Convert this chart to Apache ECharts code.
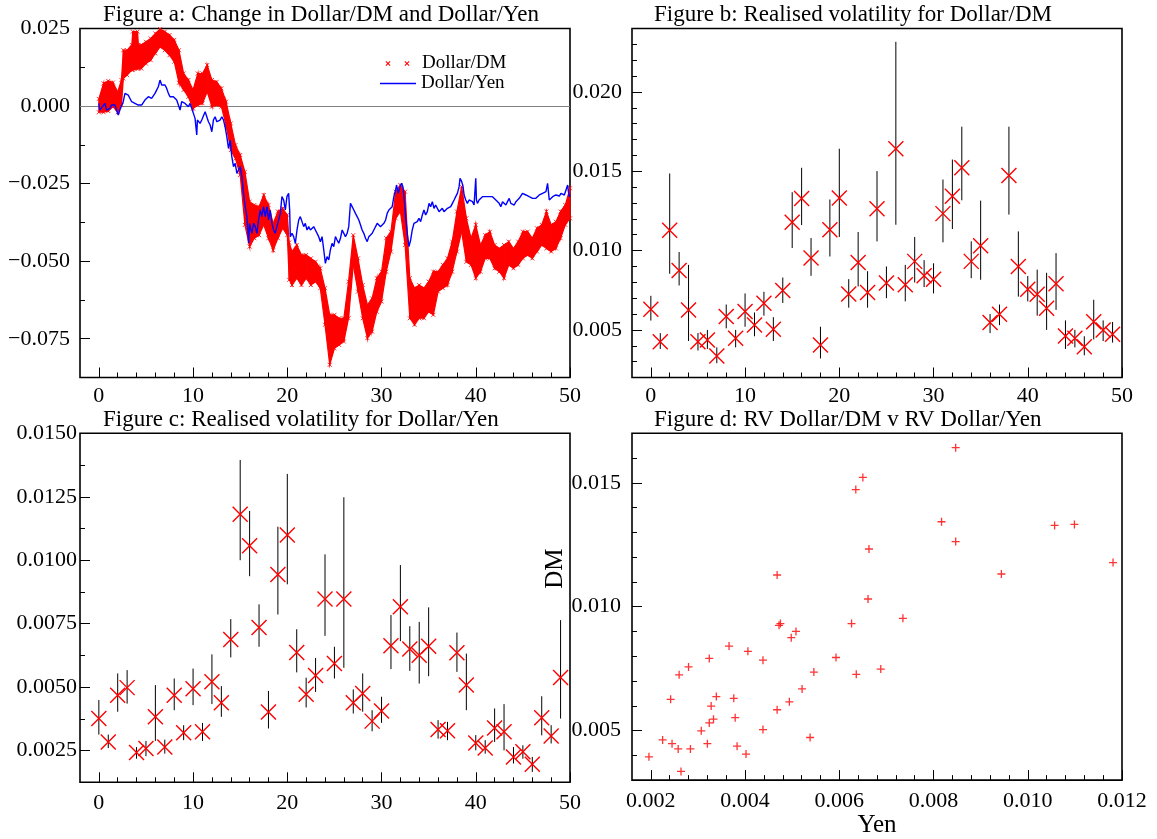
<!DOCTYPE html>
<html>
<head>
<meta charset="utf-8">
<script src="https://cdn.jsdelivr.net/npm/echarts@6/dist/echarts.min.js"></script>
<style>html,body{margin:0;padding:0;background:#fff;}#c{width:1157px;height:839px;}</style>
</head>
<body>
<div id="c"></div>
<script>
// ---------- DATA ----------
const days = [0,1,2,3,4,5,6,7,8,9,10,11,12,13,14,15,16,17,18,19,20,21,22,23,24,25,26,27,28,29,30,31,32,33,34,35,36,37,38,39,40,41,42,43,44,45,46,47,48,49];

// Figure a: Dollar/DM (band of dense points: lower / upper envelope)
const dmX  = [0,0.5,1,1.5,2,2.4,2.6,3,3.5,3.6,4.1,4.2,4.5,5,5.5,6,6.5,7,7.5,8,8.5,9,9.5,10,10.5,11,11.5,12,12.5,13,13.5,14,14.5,15,15.5,16,16.5,17,17.5,18,18.5,19,19.5,20,20.2,20.5,21,21.5,22,22.5,23,23.5,24,24.5,25,25.5,26,26.5,27,27.5,28,28.5,29,29.5,30,30.5,31,31.5,32,32.5,33,33.5,34,34.5,35,35.5,36,36.5,37,37.5,38,38.5,39,39.5,40,40.5,41,41.5,42,42.5,43,43.5,44,44.5,45,45.5,46,46.5,47,47.5,48,48.5,49,49.5,50];
const dmLo = [-0.0020,-0.0020,-0.0016,-0.0002,-0.0020,0.0003,0.0089,0.0100,0.0116,0.0116,0.0120,0.0121,0.0121,0.0137,0.0148,0.0170,0.0191,0.0180,0.0164,0.0143,0.0075,0.0052,0.0030,-0.0008,0.0003,0.0009,0.0046,-0.0002,0.0003,-0.0002,-0.0061,-0.0142,-0.0169,-0.0222,-0.0383,-0.0453,-0.0426,-0.0416,-0.0383,-0.0426,-0.0465,-0.0426,-0.0394,-0.0416,-0.0560,-0.0577,-0.0555,-0.0577,-0.0555,-0.0577,-0.0566,-0.0587,-0.0705,-0.0834,-0.0781,-0.0770,-0.0759,-0.0684,-0.0512,-0.0598,-0.0684,-0.0748,-0.0727,-0.0663,-0.0630,-0.0534,-0.0469,-0.0362,-0.0340,-0.0448,-0.0684,-0.0705,-0.0684,-0.0684,-0.0663,-0.0673,-0.0598,-0.0587,-0.0577,-0.0534,-0.0469,-0.0405,-0.0502,-0.0512,-0.0555,-0.0534,-0.0491,-0.0491,-0.0523,-0.0534,-0.0555,-0.0512,-0.0523,-0.0512,-0.0491,-0.0480,-0.0491,-0.0469,-0.0448,-0.0459,-0.0469,-0.0459,-0.0426,-0.0383,-0.0362];
const dmHi = [0.0023,0.0073,0.0081,0.0076,0.0046,0.0084,0.0180,0.0180,0.0197,0.0240,0.0240,0.0197,0.0197,0.0207,0.0218,0.0234,0.0248,0.0240,0.0229,0.0213,0.0180,0.0105,0.0084,0.0052,0.0105,0.0105,0.0132,0.0084,0.0078,0.0057,0.0014,-0.0056,-0.0126,-0.0158,-0.0212,-0.0308,-0.0319,-0.0324,-0.0287,-0.0319,-0.0378,-0.0340,-0.0330,-0.0351,-0.0440,-0.0469,-0.0448,-0.0480,-0.0480,-0.0491,-0.0502,-0.0523,-0.0587,-0.0673,-0.0673,-0.0684,-0.0684,-0.0566,-0.0416,-0.0491,-0.0577,-0.0641,-0.0620,-0.0555,-0.0534,-0.0426,-0.0405,-0.0276,-0.0255,-0.0276,-0.0555,-0.0587,-0.0577,-0.0587,-0.0566,-0.0534,-0.0534,-0.0512,-0.0491,-0.0437,-0.0340,-0.0260,-0.0362,-0.0426,-0.0383,-0.0448,-0.0416,-0.0405,-0.0448,-0.0459,-0.0448,-0.0437,-0.0459,-0.0437,-0.0405,-0.0405,-0.0426,-0.0394,-0.0383,-0.0340,-0.0383,-0.0373,-0.0340,-0.0319,-0.0265];

// Figure a: Dollar/Yen
const yenX = [0,0.11,0.28,0.64,0.82,1.17,1.35,1.52,1.70,1.88,2.06,2.23,2.41,2.59,2.77,2.94,3.12,3.30,3.48,3.65,3.83,4.01,4.18,4.36,4.54,4.72,4.89,5.07,5.25,5.43,5.60,5.78,5.96,6.13,6.31,6.49,6.67,6.84,7.02,7.20,7.38,7.55,7.73,7.91,8.09,8.26,8.44,8.62,8.79,8.97,9.15,9.33,9.50,9.68,9.86,10.04,10.21,10.39,10.46,10.57,10.74,10.92,11.10,11.28,11.45,11.63,11.81,11.99,12.16,12.34,12.52,12.70,12.87,13.05,13.23,13.40,13.58,13.76,13.94,14.11,14.29,14.47,14.65,14.82,15.00,15.18,15.35,15.53,15.71,15.78,15.89,15.99,16.24,16.42,16.60,16.77,16.95,17.13,17.30,17.48,17.66,17.84,18.01,18.19,18.37,18.55,18.72,18.90,19.08,19.26,19.43,19.61,19.79,19.96,20.14,20.25,20.32,20.50,20.67,20.85,21.03,21.21,21.38,21.56,21.74,21.91,22.09,22.27,22.45,22.62,22.80,22.98,23.16,23.33,23.51,23.69,23.87,
  24.04,24.22,24.40,24.57,24.75,24.93,25.11,25.28,25.46,25.64,25.82,25.99,26.17,26.35,26.52,26.70,26.88,27.06,27.23,27.41,27.59,27.77,27.94,28.12,28.30,28.48,28.65,28.83,29.01,29.18,29.36,29.54,29.72,29.89,30.07,30.25,30.43,30.60,30.78,30.96,31.13,31.31,31.49,31.60,31.77,31.91,32.13,32.27,32.45,32.55,32.73,32.91,33.09,33.26,33.44,33.62,33.79,33.97,34.15,34.33,34.50,34.68,34.86,35.04,35.21,35.39,35.57,35.74,35.92,36.10,36.28,36.45,36.63,36.81,36.99,37.16,37.34,37.52,37.70,37.87,38.05,38.23,38.33,38.51,38.65,38.76,38.94,39.11,39.29,39.47,39.65,39.82,40.00,40.07,40.18,40.35,40.53,40.71,40.89,41.06,41.24,41.42,41.60,41.77,41.95,42.13,42.30,42.48,42.66,42.84,43.01,43.19,43.37,43.55,43.72,43.90,44.08,44.26,44.43,44.61,44.79,44.96,45.14,45.32,45.50,45.67,45.85,46.03,46.21,46.38,46.56,46.74,46.91,47.09,47.27,47.45,47.62,47.73,47.80,47.98,48.16,48.33,48.51,48.69,48.87,49.04,49.22,49.40,49.57,49.75,49.86,49.93,50.00];
const yenY = [0.00086,-0.00129,-0.00183,0.00086,-0.00129,-0.00075,0.00032,0.00086,0.00032,-0.00129,-0.0029,-0.00129,-0.00075,0.0014,0.00408,0.00462,0.00354,0.00301,0.0014,0.00193,0.00086,0.0014,0.00032,-0.00021,0.00032,0.00032,0.00193,0.00247,0.00301,0.00247,0.00247,0.00301,0.00408,0.00515,0.00623,0.00838,0.00677,0.00677,0.00677,0.00569,0.00408,0.00301,0.00354,0.00301,0.00247,0.00193,0.00247,-0.00129,0.0014,0.00086,0.00086,0.00032,-0.00021,0.00086,-0.00075,-0.00129,-0.00397,-0.00934,-0.00451,-0.00397,-0.00558,-0.00451,-0.00397,-0.00183,-0.00236,-0.00505,-0.00612,-0.00827,-0.00451,-0.00344,-0.00505,-0.00451,-0.00451,-0.00344,-0.00451,-0.00666,-0.00988,-0.01364,-0.01095,-0.01632,-0.01954,-0.01847,-0.02169,-0.02062,-0.01954,-0.02277,-0.02814,-0.03243,-0.03565,-0.03887,-0.04424,-0.0378,-0.04102,-0.0378,-0.03887,-0.04102,-0.03673,-0.0335,-0.03565,-0.03243,-0.03565,-0.03243,-0.03673,-0.0335,-0.0378,-0.03995,-0.04102,-0.03887,-0.03887,-0.03458,-0.02921,-0.03028,-0.0335,-0.02921,-0.02814,-0.0335,-0.0421,-0.04102,-0.0421,-0.04424,-0.03995,-0.03673,-0.03565,-0.03726,-0.03887,-0.0378,-0.03995,-0.03887,-0.03995,-0.03941,-0.03887,-0.03995,-0.03995,-0.0421,-0.04371,-0.0421,-0.04639,
  -0.05069,-0.04854,-0.04961,-0.04639,-0.04424,-0.04532,-0.0421,-0.04317,-0.04424,-0.04263,-0.03995,-0.03941,-0.0421,-0.04102,-0.03887,-0.03136,-0.03243,-0.0335,-0.03458,-0.03565,-0.03673,-0.03834,-0.03995,-0.04102,-0.04263,-0.04371,-0.0421,-0.04156,-0.04102,-0.03995,-0.03941,-0.0378,-0.03834,-0.03887,-0.03834,-0.0378,-0.03673,-0.03458,-0.0335,-0.03297,-0.03243,-0.02921,-0.02706,-0.02545,-0.02814,-0.02652,-0.02491,-0.02599,-0.03136,-0.03565,-0.04102,-0.04532,-0.04317,-0.03995,-0.0378,-0.03834,-0.03726,-0.03619,-0.03726,-0.03512,-0.0335,-0.03512,-0.03404,-0.03136,-0.03243,-0.03082,-0.03297,-0.0319,-0.03243,-0.03404,-0.0335,-0.03297,-0.03404,-0.03458,-0.03297,-0.03243,-0.03243,-0.03136,-0.03028,-0.02921,-0.02814,-0.02599,-0.0233,-0.02438,-0.02599,-0.02867,-0.03028,-0.03136,-0.03028,-0.03028,-0.03082,-0.0319,-0.0233,-0.03028,-0.03136,-0.03028,-0.02975,-0.02921,-0.02975,-0.02921,-0.02867,-0.02921,-0.02867,-0.02921,-0.02975,-0.03028,-0.03082,-0.03136,-0.03243,-0.03082,-0.03136,-0.0319,-0.03082,-0.02975,-0.03136,-0.03082,-0.0319,-0.03082,-0.03028,-0.02975,-0.02921,-0.02814,-0.02867,-0.02867,-0.02921,-0.02921,-0.02975,-0.02975,-0.03028,-0.02975,-0.02921,-0.02867,-0.02867,-0.02814,-0.02814,-0.0276,-0.02491,-0.02814,-0.03028,-0.02975,-0.02921,-0.02921,-0.02867,-0.02867,-0.029,-0.02814,-0.02814,-0.02867,-0.02814,-0.02545,-0.02814,-0.02921,-0.02867];

// Figure b: realised volatility Dollar/DM with bands
const rvDM   = [0.0063,0.00426,0.01128,0.00875,0.00626,0.00426,0.00437,0.00335,0.00584,0.00447,0.00616,0.00531,0.00668,0.00504,0.00748,0.01178,0.01328,0.00953,0.00405,0.01132,0.01332,0.00727,0.00925,0.00736,0.01263,0.00795,0.01642,0.00784,0.00932,0.00841,0.0082,0.01233,0.01343,0.01522,0.00932,0.01031,0.00546,0.00599,0.01473,0.009,0.00757,0.00725,0.00637,0.00791,0.00462,0.00447,0.00394,0.00552,0.00499,0.00472];
const rvDMLo = [0.00559,0.0038,0.00854,0.0078,0.0043,0.0037,0.0038,0.0029,0.0051,0.0039,0.0052,0.0046,0.0059,0.0043,0.0067,0.01016,0.01161,0.00841,0.0032,0.00963,0.01086,0.0064,0.00774,0.0064,0.01058,0.0070,0.01163,0.0068,0.00799,0.0077,0.0073,0.01052,0.01136,0.01317,0.00826,0.00816,0.0048,0.0053,0.01227,0.0071,0.0068,0.0059,0.0050,0.00626,0.0038,0.0039,0.0034,0.0044,0.0043,0.0042];
const rvDMHi = [0.00715,0.0048,0.01486,0.00991,0.0091,0.0048,0.0050,0.0039,0.0066,0.0050,0.0073,0.0061,0.0074,0.0058,0.0083,0.01368,0.01522,0.01079,0.0052,0.01322,0.01642,0.0082,0.01117,0.0087,0.01501,0.0090,0.02316,0.0091,0.01086,0.0094,0.0092,0.01448,0.01574,0.01781,0.01058,0.01315,0.0060,0.0066,0.01781,0.01121,0.0084,0.0088,0.0086,0.00984,0.0056,0.0050,0.0046,0.0069,0.0056,0.0055];

// Figure c: realised volatility Dollar/Yen with bands
const rvYen   = [0.00376,0.00284,0.00468,0.00498,0.00242,0.00258,0.00383,0.00264,0.00468,0.0032,0.00494,0.00324,0.00521,0.00438,0.00688,0.01181,0.01057,0.00735,0.00402,0.00944,0.01099,0.00636,0.00472,0.00546,0.00847,0.00593,0.00847,0.00438,0.00475,0.00366,0.00406,0.00663,0.00817,0.0065,0.00626,0.00661,0.00333,0.00328,0.00635,0.00508,0.0028,0.0026,0.00339,0.00324,0.00225,0.00245,0.00196,0.00379,0.00307,0.00538];
const rvYenLo = [0.00313,0.0026,0.00403,0.00435,0.00218,0.00228,0.00288,0.00238,0.00409,0.00291,0.00429,0.00288,0.00433,0.00383,0.00617,0.010,0.00937,0.00659,0.00337,0.00786,0.00905,0.00558,0.0042,0.00481,0.00702,0.00534,0.00576,0.00396,0.00403,0.00326,0.00359,0.00571,0.00681,0.00564,0.00514,0.00543,0.00297,0.00291,0.0056,0.00409,0.00251,0.00238,0.00284,0.00251,0.00199,0.00218,0.00166,0.0031,0.00278,0.00376];
const rvYenHi = [0.00449,0.00313,0.00554,0.00567,0.00264,0.00288,0.00508,0.00293,0.00534,0.0035,0.00573,0.00359,0.00629,0.00504,0.00768,0.01395,0.01194,0.00826,0.00485,0.01132,0.0134,0.00728,0.00537,0.00615,0.01023,0.00659,0.01248,0.00491,0.00554,0.00409,0.00462,0.00784,0.00981,0.0074,0.00757,0.00814,0.0037,0.00363,0.00715,0.00632,0.00311,0.00291,0.00416,0.00433,0.00264,0.00271,0.00225,0.00464,0.0035,0.00764];

// Tick values
const dayTicks      = [0,10,20,30,40,50];
const dayMinor      = [2,4,6,8,12,14,16,18,22,24,26,28,32,34,36,38,42,44,46,48];
const aYTicks       = [-0.075,-0.05,-0.025,0,0.025];
const aYMinor       = [-0.0625,-0.0375,-0.0125,0.0125];
const bYTicks       = [0.005,0.010,0.015,0.020];
const bYMinor       = [0.003,0.004,0.006,0.007,0.008,0.009,0.011,0.012,0.013,0.014,0.016,0.017,0.018,0.019,0.021,0.022,0.023];
const cYTicks       = [0.0025,0.005,0.0075,0.010,0.0125,0.015];
const cYMinor       = [0.00375,0.00625,0.00875,0.01125,0.01375];
const dXTicks       = [0.002,0.004,0.006,0.008,0.010,0.012];
const dXMinor       = [0.0024,0.0028,0.0032,0.0036,0.0044,0.0048,0.0052,0.0056,0.0064,0.0068,0.0072,0.0076,0.0084,0.0088,0.0092,0.0096,0.0104,0.0108,0.0112,0.0116];
const dYTicks       = [0.005,0.010,0.015];
const dYMinor       = [0.004,0.006,0.007,0.008,0.009,0.011,0.012,0.013,0.014,0.016];

// ---------- CHART ----------
const SERIF = '"Liberation Serif","DejaVu Serif",serif';
const RED = '#ff0000', BLUE = '#0000ff';
const CROSS = 'path://M0,0L10,10M10,0L0,10';
const PLUS = 'path://M0,5L10,5M5,0L5,10';
const DM_ICON = 'path://M0,5L0.01,5L0,5.01Z M9,1.5L10.5,0L14,3.5L17.5,0L19,1.5L15.5,5L19,8.5L17.5,10L14,6.5L10.5,10L9,8.5L12.5,5Z M47,1.5L48.5,0L52,3.5L55.5,0L57,1.5L53.5,5L57,8.5L55.5,10L52,6.5L48.5,10L47,8.5L50.5,5Z M72,5L71.99,5L72,5.01Z';

function fmt(dec) {
  return function (v) {
    let s = (Math.abs(v) < 1e-12 ? 0 : v).toFixed(dec);
    return s.replace('-', '\u2212');
  };
}

const grids = [
  {left: 80,  top: 28.5, width: 490, height: 349},
  {left: 632, top: 28.5, width: 490, height: 349},
  {left: 80,  top: 433.3, width: 490, height: 349},
  {left: 632, top: 433.3, width: 490, height: 349}
];
grids.forEach(g => { g.show = true; g.borderColor = '#000'; g.borderWidth = 1.6; g.backgroundColor = 'transparent'; g.containLabel = false; });

const labelStyle = {fontFamily: SERIF, fontSize: 22, color: '#000'};

function axisPair(kind, gridIndex, min, max, ticks, minor, dec, margin, extra) {
  const pos = kind === 'x' ? 'bottom' : 'left';
  const major = Object.assign({
    type: 'value', gridIndex: gridIndex, min: min, max: max, position: pos,
    axisLine: {show: false, onZero: false}, splitLine: {show: false},
    axisTick: {show: true, inside: true, length: 10, customValues: ticks, lineStyle: {color: '#000', width: 1}},
    axisLabel: Object.assign({show: true, customValues: ticks, formatter: fmt(dec), margin: margin}, labelStyle)
  }, extra || {});
  const mnr = {
    type: 'value', gridIndex: gridIndex, min: min, max: max, position: pos,
    axisLine: {show: false, onZero: false}, splitLine: {show: false},
    axisTick: {show: true, inside: true, length: 5, customValues: minor, lineStyle: {color: '#000', width: 1}},
    axisLabel: {show: false}
  };
  return [major, mnr];
}

const xAxes = [].concat(
  axisPair('x', 0, -2, 50, dayTicks, dayMinor, 0, 8),
  axisPair('x', 1, -2, 50, dayTicks, dayMinor, 0, 8),
  axisPair('x', 2, -2, 50, dayTicks, dayMinor, 0, 10),
  axisPair('x', 3, 0.0016, 0.012, dXTicks, dXMinor, 3, 10, {
    name: 'Yen', nameLocation: 'middle', nameGap: 30,
    nameTextStyle: {fontFamily: SERIF, fontSize: 25, color: '#000'}
  })
);
const yAxes = [].concat(
  axisPair('y', 0, -0.0875, 0.025, aYTicks, aYMinor, 3, 10),
  axisPair('y', 1, 0.002, 0.024, bYTicks, bYMinor, 3, 10),
  axisPair('y', 2, 0.00125, 0.015, cYTicks, cYMinor, 4, 3),
  axisPair('y', 3, 0.003, 0.017, dYTicks, dYMinor, 3, 11, {
    name: 'DM', nameLocation: 'middle', nameGap: 31,
    nameTextStyle: {fontFamily: SERIF, fontSize: 25, color: '#000', padding: [0, 0, 0, 76]}
  })
);

function bandItem(params, api) {
  const i = params.dataIndex;
  if (i >= dmX.length - 1) return null;
  const p1 = api.coord([dmX[i], dmLo[i]]);
  const p2 = api.coord([dmX[i + 1], dmLo[i + 1]]);
  const p3 = api.coord([dmX[i + 1], dmHi[i + 1]]);
  const p4 = api.coord([dmX[i], dmHi[i]]);
  return {type: 'polygon', shape: {points: [p1, p2, p3, p4]},
          style: {fill: RED, stroke: RED, lineWidth: 1.2}};
}

function errItem(params, api) {
  const x = api.value(0);
  const a = api.coord([x, api.value(1)]);
  const b = api.coord([x, api.value(2)]);
  return {type: 'line', shape: {x1: a[0], y1: a[1], x2: b[0], y2: b[1]},
          style: {stroke: '#000', lineWidth: 1}};
}

const titleStyle = {fontFamily: SERIF, fontSize: 23, fontWeight: 'normal', color: '#000'};
const crossStyle = {color: RED, borderColor: RED, borderWidth: 1.4, opacity: 1};

const option = {
  animation: false,
  backgroundColor: '#fff',
  title: [
    {text: 'Figure a: Change in Dollar/DM and Dollar/Yen', left: 103, top: 3, padding: 0, textStyle: titleStyle},
    {text: 'Figure b: Realised volatility for Dollar/DM', left: 654, top: 3, padding: 0, textStyle: titleStyle},
    {text: 'Figure c: Realised volatility for Dollar/Yen', left: 103, top: 408.5, padding: 0, textStyle: titleStyle},
    {text: 'Figure d: RV Dollar/DM v RV Dollar/Yen', left: 654, top: 408.5, padding: 0, textStyle: titleStyle}
  ],
  legend: [
    {data: [{name: 'Dollar/DM', icon: DM_ICON}], left: 381, top: 54, padding: 0,
     itemWidth: 36, itemHeight: 5, selectedMode: false,
     textStyle: {fontFamily: SERIF, fontSize: 19, color: '#000'}},
    {data: [{name: 'Dollar/Yen', icon: 'rect'}], left: 380, top: 74, padding: 0,
     itemWidth: 36, itemHeight: 1.5, selectedMode: false,
     textStyle: {fontFamily: SERIF, fontSize: 19, color: '#000'}}
  ],
  grid: grids,
  xAxis: xAxes,
  yAxis: yAxes,
  series: [
    // Figure a
    {name: 'Dollar/DM', type: 'custom', xAxisIndex: 0, yAxisIndex: 0,
     renderItem: bandItem, itemStyle: {color: RED},
     data: dmX.map((x, i) => [x, dmLo[i], dmHi[i]]), encode: {x: 0, y: [1, 2]}, z: 2},
    {name: 'Dollar/DM', type: 'scatter', xAxisIndex: 0, yAxisIndex: 0,
     symbol: CROSS, symbolSize: 4, itemStyle: {color: RED, borderColor: RED, borderWidth: 1},
     data: dmX.map((x, i) => [x, dmHi[i]]).concat(dmX.map((x, i) => [x, dmLo[i]])), z: 2},
    {name: 'Dollar/Yen', type: 'line', xAxisIndex: 0, yAxisIndex: 0,
     showSymbol: false, symbol: 'none', lineStyle: {color: BLUE, width: 1.4}, itemStyle: {color: BLUE},
     data: yenX.map((x, i) => [x, yenY[i]]), z: 3,
     markLine: {silent: true, symbol: 'none', label: {show: false}, z: 1,
                lineStyle: {color: '#808080', width: 1, type: 'solid'}, data: [{yAxis: 0}]}},
    // Figure b
    {type: 'custom', xAxisIndex: 2, yAxisIndex: 2, renderItem: errItem,
     data: days.map(i => [days[i], rvDMLo[i], rvDMHi[i]]), encode: {x: 0, y: [1, 2]}, z: 2},
    {type: 'scatter', xAxisIndex: 2, yAxisIndex: 2, symbol: CROSS, symbolSize: 15,
     itemStyle: crossStyle, data: days.map(i => [days[i], rvDM[i]]), z: 3},
    // Figure c
    {type: 'custom', xAxisIndex: 4, yAxisIndex: 4, renderItem: errItem,
     data: days.map(i => [days[i], rvYenLo[i], rvYenHi[i]]), encode: {x: 0, y: [1, 2]}, z: 2},
    {type: 'scatter', xAxisIndex: 4, yAxisIndex: 4, symbol: CROSS, symbolSize: 15,
     itemStyle: crossStyle, data: days.map(i => [days[i], rvYen[i]]), z: 3},
    // Figure d
    {type: 'scatter', xAxisIndex: 6, yAxisIndex: 6, symbol: PLUS, symbolSize: 8,
     itemStyle: {color: RED, borderColor: RED, borderWidth: 1.3},
     data: days.map(i => [rvYen[i], rvDM[i]]), z: 3}
  ]
};

const chart = echarts.init(document.getElementById('c'), null, {renderer: 'canvas'});
chart.setOption(option);
</script>
</body>
</html>
